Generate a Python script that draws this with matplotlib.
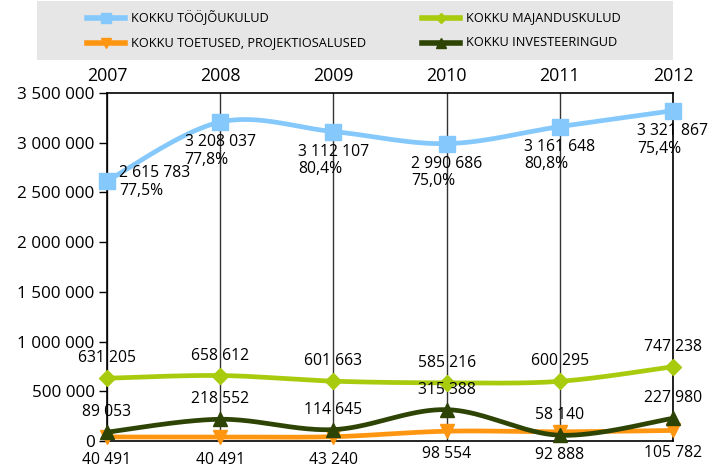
import numpy as np
import matplotlib
matplotlib.use("Agg")
import matplotlib.pyplot as plt
from matplotlib.patches import Rectangle

plt.rcParams['font.family'] = ['Open Sans', 'DejaVu Sans']

years = [2007, 2008, 2009, 2010, 2011, 2012]
year_labels = ["2007", "2008", "2009", "2010", "2011", "2012"]

toojoukulud = [2615783, 3208037, 3112107, 2990686, 3161648, 3321867]
toojoukulud_pct = ["77,5%", "77,8%", "80,4%", "75,0%", "80,8%", "75,4%"]
majanduskulud = [631205, 658612, 601663, 585216, 600295, 747238]
toetused = [40491, 40491, 43240, 98554, 92888, 105782]
investeeringud = [89053, 218552, 114645, 315388, 58140, 227980]

series_names = ["KOKKU TÖÖJÕUKULUD", "KOKKU MAJANDUSKULUD",
                "KOKKU TOETUSED, PROJEKTIOSALUSED", "KOKKU INVESTEERINGUD"]

yticks = [0, 500000, 1000000, 1500000, 2000000, 2500000, 3000000, 3500000]

C_BLUE = "#85C8FB"
C_GREEN = "#A9CB0E"
C_ORANGE = "#FF9612"
C_DARK = "#2E4405"


def fmt(v):
    return f"{v:,}".replace(",", " ")


def smooth(x, y, n=40):
    # Catmull-Rom (Excel-style smoothed line) rendering through data points
    x = np.asarray(x, float); y = np.asarray(y, float)
    px = np.concatenate([[x[0]], x, [x[-1]]])
    py = np.concatenate([[y[0]], y, [y[-1]]])
    xs, ys = [], []
    t = np.linspace(0, 1, n)
    for i in range(1, len(px) - 2):
        p0, p1, p2, p3 = (np.array([px[j], py[j]]) for j in (i - 1, i, i + 1, i + 2))
        c1 = p1 + (p2 - p0) / 6
        c2 = p2 - (p3 - p1) / 6
        b = ((1 - t) ** 3)[:, None] * p1 + (3 * (1 - t) ** 2 * t)[:, None] * c1 + \
            (3 * (1 - t) * t ** 2)[:, None] * c2 + (t ** 3)[:, None] * p2
        xs.append(b[:, 0]); ys.append(b[:, 1])
    return np.concatenate(xs), np.concatenate(ys)


W, H = 712, 468
fig = plt.figure(figsize=(W / 100, H / 100), dpi=100)
L, R, T, B = 107, 673, 93, 441
ax = fig.add_axes([L / W, 1 - B / H, (R - L) / W, (B - T) / H])
ax.set_xlim(years[0], years[-1])
ax.set_ylim(0, 3500000)

for yr in years:
    ax.axvline(yr, color="#333333", lw=1.0, zorder=1)

ax.set_yticks(yticks)
ax.set_yticklabels([fmt(v) for v in yticks], fontsize=12.3)
ax.tick_params(axis='y', direction='out', length=6, width=1, color='black', pad=3)
ax.set_xticks(years)
ax.set_xticklabels(year_labels, fontsize=12.8)
ax.xaxis.tick_top()
ax.tick_params(axis='x', length=0, pad=6)
for s in ax.spines.values():
    s.set_color('black'); s.set_linewidth(1.2)

specs = [
    (toojoukulud, C_BLUE, 's', 11),
    (majanduskulud, C_GREEN, 'D', 8.5),
    (toetused, C_ORANGE, 'v', 10),
    (investeeringud, C_DARK, '^', 10),
]
for i, (vals, col, mk, ms) in enumerate(specs):
    sx, sy = smooth(years, vals)
    ax.plot(sx, sy, color=col, lw=3.4, zorder=3 + i, solid_capstyle='round', clip_on=False)
    ax.plot(years, vals, ls='none', marker=mk, color=col, ms=ms, zorder=3 + i, clip_on=False)

pt = 72 / 100
lab_fs = 11.3
for k, (yr, v, p) in enumerate(zip(years, toojoukulud, toojoukulud_pct)):
    txt = fmt(v) + "\n" + p
    if k == 0:
        ax.annotate(txt, (yr, v), xytext=(12 * pt, -1 * pt), textcoords='offset points',
                    ha='left', va='center', fontsize=lab_fs, linespacing=1.15, zorder=10)
    else:
        ax.annotate(txt, (yr, v), xytext=(0, -12 * pt), textcoords='offset points',
                    ha='center', va='top', multialignment='left', fontsize=lab_fs,
                    linespacing=1.15, zorder=10)
for yr, v in zip(years, majanduskulud):
    ax.annotate(fmt(v), (yr, v), xytext=(0, 12 * pt), textcoords='offset points',
                ha='center', va='bottom', fontsize=lab_fs, zorder=10)
for yr, v in zip(years, investeeringud):
    ax.annotate(fmt(v), (yr, v), xytext=(0, 12 * pt), textcoords='offset points',
                ha='center', va='bottom', fontsize=lab_fs, zorder=10)
for yr, v in zip(years, toetused):
    ax.annotate(fmt(v), (yr, v), xytext=(0, -15 * pt), textcoords='offset points',
                ha='center', va='top', fontsize=lab_fs, zorder=10, annotation_clip=False)

# legend in pixel coordinates
lg = fig.add_axes([0, 0, 1, 1], zorder=-1)
lg.set_xlim(0, W); lg.set_ylim(H, 0); lg.axis('off')
lg.add_patch(Rectangle((37, 1), 673 - 37, 59, facecolor="#E6E6E6", edgecolor='none'))
entries = [
    (87, 18, C_BLUE, 's', 7, series_names[0]),
    (422, 18, C_GREEN, 'D', 5.5, series_names[1]),
    (87, 43, C_ORANGE, 'v', 7, series_names[2]),
    (422, 43, C_DARK, '^', 7, series_names[3]),
]
for x0, y0, col, mk, ms, name in entries:
    lg.plot([x0, x0 + 38], [y0, y0], color=col, lw=4)
    lg.plot([x0 + 19], [y0], marker=mk, color=col, ms=ms)
    lg.text(x0 + 44, y0, name, fontsize=9.2, va='center', ha='left')

fig.savefig("out.png", dpi=100)
